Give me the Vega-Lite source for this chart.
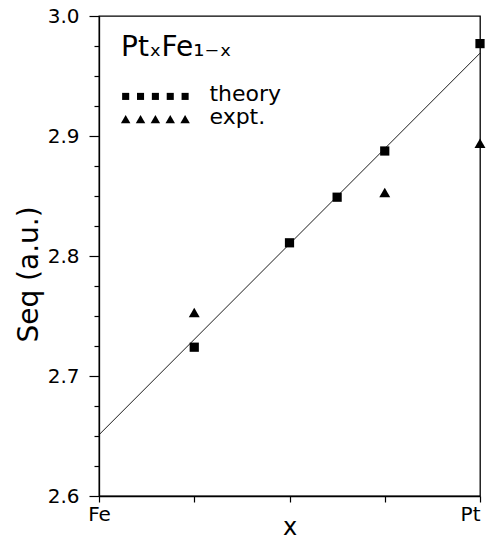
{
  "$schema": "https://vega.github.io/schema/vega-lite/v6.json",
  "width": 381,
  "height": 480,
  "autosize": {"type": "none"},
  "padding": {"left": 99, "top": 16, "right": 8, "bottom": 44},
  "background": "white",
  "config": {
    "view": {"stroke": "black", "strokeWidth": 1.3},
    "font": "DejaVu Sans",
    "axis": {
      "grid": false,
      "domainColor": "black",
      "domainWidth": 1.3,
      "tickColor": "black",
      "tickWidth": 1.2,
      "labelColor": "black",
      "titleColor": "black",
      "labelFont": "DejaVu Sans",
      "titleFont": "DejaVu Sans",
      "titleFontWeight": "normal",
      "labelFontSize": 20,
      "titleFontSize": 24
    }
  },
  "datasets": {
    "points": [
      {"x": 0.25, "S": 2.724, "type": "theory"},
      {"x": 0.5, "S": 2.811, "type": "theory"},
      {"x": 0.625, "S": 2.849, "type": "theory"},
      {"x": 0.75, "S": 2.8875, "type": "theory"},
      {"x": 1.0, "S": 2.977, "type": "theory"},
      {"x": 0.25, "S": 2.753, "type": "expt."},
      {"x": 0.75, "S": 2.853, "type": "expt."},
      {"x": 1.0, "S": 2.894, "type": "expt."}
    ],
    "fit": [
      {"x": 0, "S": 2.651},
      {"x": 1, "S": 2.969}
    ],
    "legendSym": [
      {"x": 0.07, "S": 2.933, "type": "theory"},
      {"x": 0.109, "S": 2.933, "type": "theory"},
      {"x": 0.148, "S": 2.933, "type": "theory"},
      {"x": 0.187, "S": 2.933, "type": "theory"},
      {"x": 0.226, "S": 2.933, "type": "theory"},
      {"x": 0.07, "S": 2.914, "type": "expt."},
      {"x": 0.109, "S": 2.914, "type": "expt."},
      {"x": 0.148, "S": 2.914, "type": "expt."},
      {"x": 0.187, "S": 2.914, "type": "expt."},
      {"x": 0.226, "S": 2.914, "type": "expt."}
    ],
    "legendText": [
      {"x": 0.29, "S": 2.935, "label": "theory"},
      {"x": 0.29, "S": 2.916, "label": "expt."}
    ],
    "titleText": [
      {"x": 0.058, "S": 2.967, "label": "PtₓFe₁₋ₓ"}
    ]
  },
  "encoding": {
    "x": {
      "field": "x",
      "type": "quantitative",
      "scale": {"domain": [0, 1], "nice": false, "zero": false},
      "axis": {
        "values": [0, 0.25, 0.5, 0.75, 1],
        "labelExpr": "datum.value == 0 ? 'Fe' : (datum.value == 1 ? 'Pt' : '')",
        "labelAlign": {"condition": {"test": "datum.value == 1", "value": "right"}, "value": "center"},
        "labelDx": 6,
        "tickSize": 6,
        "labelPadding": 2,
        "labelFlush": false,
        "title": "x",
        "titleFontSize": 24,
        "titlePadding": -9
      }
    },
    "y": {
      "field": "S",
      "type": "quantitative",
      "scale": {"domain": [2.6, 3.0], "nice": false, "zero": false},
      "axis": {
        "values": [2.6, 2.625, 2.65, 2.675, 2.7, 2.725, 2.75, 2.775, 2.8, 2.825, 2.85, 2.875, 2.9, 2.925, 2.95, 2.975, 3.0],
        "labelExpr": "abs(datum.value * 10 - round(datum.value * 10)) < 0.001 ? format(datum.value, '.1f') : ''",
        "tickSize": {"condition": {"test": "abs(datum.value * 10 - round(datum.value * 10)) < 0.001", "value": 10}, "value": 5},
        "labelPadding": 10,
        "labelFlush": false,
        "title": "Seq  (a.u.)",
        "titleFontSize": 28,
        "titleY": 258,
        "titlePadding": 4,
        "encode": {"labels": {"update": {"dx": {"value": -10}}}}
      }
    }
  },
  "layer": [
    {
      "data": {"name": "fit"},
      "mark": {"type": "line", "color": "black", "strokeWidth": 0.9},
      "encoding": {}
    },
    {
      "data": {"name": "points"},
      "transform": [{"filter": "datum.type == 'theory'"}],
      "mark": {"type": "point", "shape": "square", "filled": true, "color": "black", "opacity": 1, "size": 85},
      "encoding": {}
    },
    {
      "data": {"name": "points"},
      "transform": [{"filter": "datum.type == 'expt.'"}],
      "mark": {"type": "point", "shape": "triangle-up", "filled": true, "color": "black", "opacity": 1, "size": 120},
      "encoding": {}
    },
    {
      "data": {"name": "legendSym"},
      "transform": [{"filter": "datum.type == 'theory'"}],
      "mark": {"type": "point", "shape": "square", "filled": true, "color": "black", "opacity": 1, "size": 50},
      "encoding": {}
    },
    {
      "data": {"name": "legendSym"},
      "transform": [{"filter": "datum.type == 'expt.'"}],
      "mark": {"type": "point", "shape": "triangle-up", "filled": true, "color": "black", "opacity": 1, "size": 90},
      "encoding": {}
    },
    {
      "data": {"name": "legendText"},
      "mark": {"type": "text", "align": "left", "baseline": "middle", "fontSize": 22, "color": "black", "font": "DejaVu Sans"},
      "encoding": {"text": {"field": "label"}}
    },
    {
      "data": {"name": "titleText"},
      "mark": {"type": "text", "align": "left", "baseline": "alphabetic", "fontSize": 28, "color": "black", "font": "DejaVu Sans"},
      "encoding": {"text": {"field": "label"}}
    }
  ]
}
